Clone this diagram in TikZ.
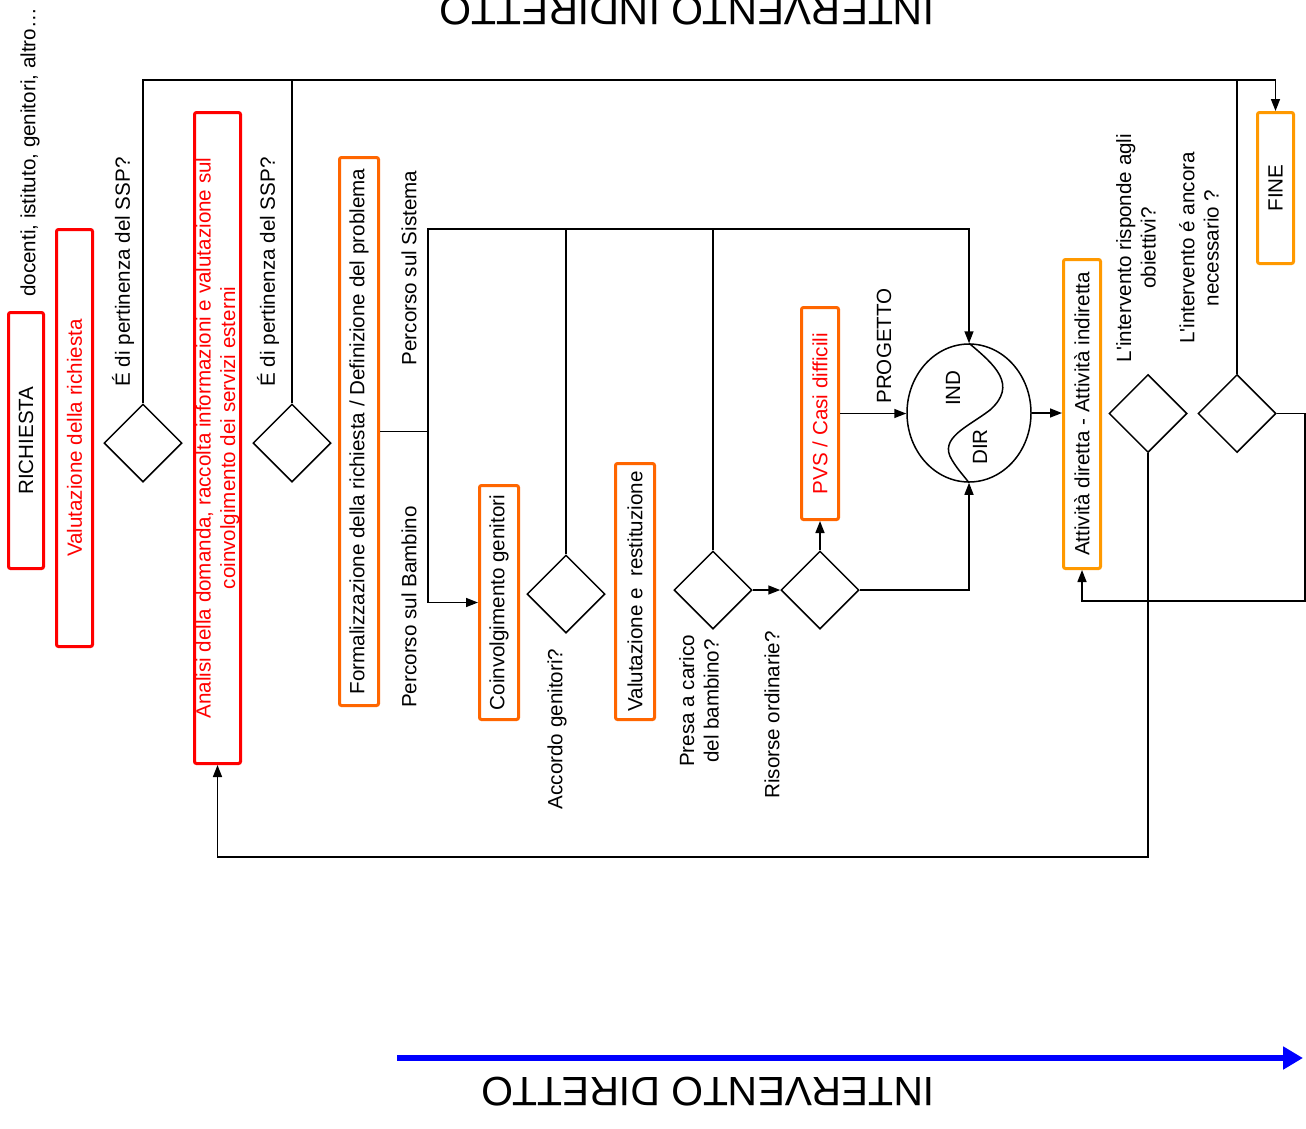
\documentclass[tikz,border=0pt]{standalone}
\usepackage{fontspec}
\setmainfont{Liberation Sans}[Ligatures=TeXOff]
\usetikzlibrary{arrows.meta,shapes.geometric}
\definecolor{redb}{HTML}{FF0000}
\definecolor{orA}{HTML}{FF6600}
\definecolor{orB}{HTML}{FF9900}
\begin{document}
\begin{tikzpicture}[x=1pt,y=-1pt,
  every node/.style={font=\fontsize{20.6}{24.5}\selectfont},
  box/.style={draw, rotate=90, line width=3pt, rounded corners=2pt, inner sep=0pt, align=center},
  redbox/.style={box, draw=redb},
  orbox/.style={box, draw=orA},
  ambox/.style={box, draw=orB},
  dec/.style={diamond, draw, line width=1.5pt, minimum size=78pt, inner sep=0pt},
  lbl/.style={rotate=90, inner sep=0pt, align=center},
  conn/.style={line width=1.5pt},
  arr/.style={conn, -{Triangle[length=12pt,width=9pt]}},
  title/.style={rotate=180, inner sep=0pt, font=\fontsize{41}{48}\selectfont}
]
\fill[white] (0,0) rectangle (1306,1128);
\useasboundingbox (0,0) rectangle (1306,1128);

% titles
\node[title] (t1) at (687,10.5) {INTERVENTO INDIRETTO};
\node[title] (t2) at (708,1092) {INTERVENTO DIRETTO};
\coordinate (bs) at (397,1058);
\coordinate (be) at (1303,1058);
\draw[blue, line width=6pt, -{Triangle[length=20pt,width=22pt]}] (bs) -- (be);

% nodes
\node[redbox, minimum width=256, minimum height=35] (richiesta) at (26,440.5) {RICHIESTA};
\node[lbl, anchor=west] (docenti) at (30,297) {docenti, istituto, genitori, altro…};
\node[redbox, text=redb, minimum width=417, minimum height=36] (valut) at (74.5,438) {Valutazione della richiesta};
\node[dec] (d1) at (143,443) {};
\node[lbl] (q1) at (123,272) {É di pertinenza del SSP?};
\node[redbox, text=redb, minimum width=651, minimum height=46] (analisi) at (217.5,438) {Analisi della domanda, raccolta informazioni e valutazione sul\\coinvolgimento dei servizi esterni};
\node[dec] (d2) at (292,443) {};
\node[lbl] (q2) at (268,272) {É di pertinenza del SSP?};
\node[orbox, minimum width=548, minimum height=39] (form) at (359,431.5) {Formalizzazione della richiesta / Definizione del problema};
\node[lbl] (psis) at (409,268) {Percorso sul Sistema};
\node[lbl] (pbam) at (409,607) {Percorso sul Bambino};
\node[orbox, minimum width=234, minimum height=39] (coinv) at (499,602.5) {Coinvolgimento genitori};
\node[dec] (d3) at (566,594) {};
\node[lbl] (q3) at (557,729) {Accordo genitori?};
\node[orbox, minimum width=256, minimum height=39] (valrest) at (635,591.5) {Valutazione e\ \ restituzione};
\node[dec] (d4) at (713,590) {};
\node[lbl] (q4) at (699,701) {Presa a carico\\del bambino?};
\node[dec] (d5) at (820,590) {};
\node[lbl] (q5) at (772,715) {Risorse ordinarie?};
\node[orbox, text=redb, minimum width=212, minimum height=37] (pvs) at (820,413.5) {PVS / Casi difficili};
\node[lbl] (prog) at (884,346) {PROGETTO};
\node[ellipse, draw, line width=1.5pt, minimum width=124, minimum height=138, inner sep=0pt] (circ) at (969,413) {};
\draw[conn] (circ.north) .. controls (995,365) and (1018,385) .. (990,410)
  .. controls (968,427) and (938,438) .. (952,460)
  .. controls (958,470) and (964,476) .. (circ.south);
\node[lbl] (ind) at (953,388) {IND};
\node[lbl] (dir) at (980,447) {DIR};
\node[ambox, minimum width=309, minimum height=37] (attiv) at (1082,414) {Attività diretta - Attività indiretta};
\node[dec] (d6) at (1148,413.5) {};
\node[lbl] (q6) at (1136,248) {L'intervento risponde agli\\obiettivi?};
\node[dec] (d7) at (1237,413.5) {};
\node[lbl] (q7) at (1199,248) {L'intervento é ancora\\necessario ?};
\node[ambox, minimum width=151, minimum height=36] (fine) at (1275.5,188) {FINE};

% connectors
\coordinate (topy) at (0,80);
\coordinate (sysy) at (0,229);
\coordinate (boty) at (0,857);
\coordinate (split) at (428,431.5);
\coordinate (rx) at (1305,601);

\draw[arr] (d1.north) -- (d1.north |- topy) -| (fine.east);
\draw[conn] (d2.north) -- (d2.north |- topy);
\draw[conn] (d7.north) -- (d7.north |- topy);
\draw[conn] (form.south) -- (split);
\draw[arr] (split) -- (split |- sysy) -| (circ.north);
\draw[arr] (split) |- (coinv.north);
\draw[conn] (d3.north) -- (d3.north |- sysy);
\draw[conn] (d4.north) -- (d4.north |- sysy);
\draw[arr] (d4.east) -- (d5.west);
\draw[arr] (d5.north) -- (pvs.west);
\draw[arr] (d5.east) -| (circ.south);
\draw[arr] (pvs.south) -- (pvs.south -| circ.west);
\draw[arr] (circ.east) -- (circ.east -| attiv.north);
\draw[arr] (d6.south) -- (d6.south |- boty) -| (analisi.west);
\draw[arr] (d7.east) -| (rx) -| (attiv.west);
\end{tikzpicture}
\end{document}
